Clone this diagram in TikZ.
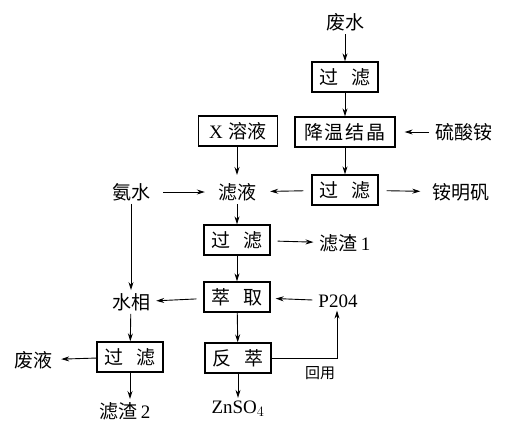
\documentclass[tikz,border=0pt]{standalone}
\usepackage{fontspec}
\setmainfont{Liberation Serif}
\newfontfamily\cjk{Noto Sans CJK SC}
\usetikzlibrary{arrows.meta}

\tikzset{
  box/.style={draw,line width=1.3pt,minimum width=66pt,minimum height=30pt,inner sep=2pt,font=\cjk\fontsize{19}{22}\selectfont},
  txt/.style={inner xsep=6pt,inner ysep=3pt,font=\cjk\fontsize{19}{22}\selectfont},
  arr/.style={-{Stealth[length=8pt,width=5pt]},line width=0.9pt},
}

\begin{document}
\begin{tikzpicture}[x=1pt,y=-1pt]
\useasboundingbox (0,0) rectangle (506,424);

% top line
\node[txt] (feishui) at (345,22) {废水};
\node[box] (guolvA) at (345,77) {过\hspace{14pt}滤};
\node[box,minimum width=100pt] (jiangwen) at (345,132) {降\hspace{2pt}温\hspace{2pt}结\hspace{2pt}晶};
\node[box,minimum width=79pt] (xrongye) at (238,131) {{\rmfamily X}\hspace{6pt}溶液};
\node[txt,anchor=west] (liusuan) at (429,132) {硫酸铵};

% filtrate
\node[box] (guolvB) at (345,190) {过\hspace{14pt}滤};
\node[txt] (lvye) at (237,192) {滤液};
\node[txt] (anshui) at (131,192) {氨水};
\node[txt] (anmingfan) at (461,192) {铵明矾};
\node[box] (guolvC) at (237,240) {过\hspace{14pt}滤};
\node[txt] (lvzhaA) at (345,243) {滤渣\,{\rmfamily 1}};

% extraction
\node[box] (cuiqu) at (237,297) {萃\hspace{14pt}取};
\node[txt,font=\rmfamily\fontsize{19}{22}\selectfont] (ptwo) at (338,301) {P204};
\node[txt] (shuixiang) at (131,302) {水相};
\node[box] (guolvD) at (130,357) {过\hspace{14pt}滤};
\node[txt] (feiye) at (33,360) {废液};
\node[txt] (lvzhaB) at (125,411) {滤渣\,{\rmfamily 2}};
\node[box] (fancui) at (238,358) {反\hspace{14pt}萃};
\node[txt,font=\rmfamily\fontsize{19}{22}\selectfont] (znso) at (238,409) {ZnSO$_4$};
\node[txt,font=\cjk\fontsize{15}{18}\selectfont] (huiyong) at (320,373) {回用};
\coordinate (bend) at (337,358);

\draw[arr] (feishui) -- (guolvA);
\draw[arr] (guolvA) -- (jiangwen);
\draw[arr,shorten >=9pt] (liusuan) -- (jiangwen);
\draw[arr] (jiangwen) -- (guolvB);
\draw[arr,shorten <=8pt,shorten >=8pt] (guolvB) -- (lvye);
\draw[arr,shorten <=8pt,shorten >=6pt] (guolvB) -- (anmingfan);
\draw[arr,shorten <=7pt,shorten >=7pt] (anshui) -- (lvye);
\draw[arr,shorten >=5pt] (xrongye.south -| lvye) -- (lvye);
\draw[arr] (lvye) -- (guolvC);
\draw[arr,shorten <=7pt] (guolvC) -- (lvzhaA);
\draw[arr] (guolvC) -- (cuiqu);
\draw[arr] (anshui) -- (shuixiang);
\draw[arr,shorten <=7pt] (cuiqu) -- (shuixiang);
\draw[arr,shorten >=5pt] (ptwo) -- (cuiqu);
\draw[arr] (shuixiang) -- (guolvD);
\draw[arr,shorten >=3pt] (guolvD) -- (feiye);
\draw[arr] (guolvD) -- (guolvD |- lvzhaB.north);
\draw[arr] (cuiqu) -- (fancui);
\draw[arr] (fancui) -- (znso);
\draw[arr] (fancui) -- (bend) -- (bend |- ptwo.south);

\end{tikzpicture}
\end{document}
